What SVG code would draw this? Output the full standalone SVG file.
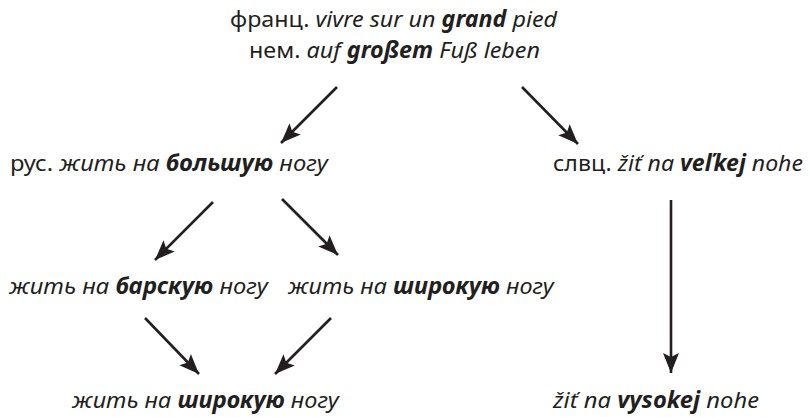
<svg xmlns="http://www.w3.org/2000/svg" width="809" height="417" viewBox="0 0 809 417">
<style>
text{font-family:"Noto Sans","Open Sans","DejaVu Sans",sans-serif;font-size:22.5px;fill:#231f20}
.i{font-style:italic}
.b{font-weight:bold}
.arr{stroke:#231f20;stroke-width:2.6;fill:none;marker-end:url(#ah)}
</style>
<defs>
<marker id="ah" markerUnits="userSpaceOnUse" markerWidth="22" markerHeight="18" viewBox="0 0 22 18" refX="20" refY="9" orient="auto">
<path d="M0,1 L20,9 L0,17 L4,9 Z" fill="#231f20"/>
</marker>
</defs>
<rect width="809" height="417" fill="#fff"/>
<g id="src">
<text x="230" y="27" textLength="327" lengthAdjust="spacingAndGlyphs">франц. <tspan class="i">vivre sur un </tspan><tspan class="i b">grand</tspan><tspan class="i"> pied</tspan></text>
<text x="249" y="58" textLength="291" lengthAdjust="spacingAndGlyphs">нем. <tspan class="i">auf </tspan><tspan class="i b">großem</tspan><tspan class="i"> Fuß leben</tspan></text>
</g>
<g id="rus">
<text x="10" y="171" textLength="318" lengthAdjust="spacingAndGlyphs">рус. <tspan class="i">жить на </tspan><tspan class="i b">большую</tspan><tspan class="i"> ногу</tspan></text>
</g>
<g id="slvc">
<text x="553" y="171" textLength="250" lengthAdjust="spacingAndGlyphs">слвц. <tspan class="i">žiť na </tspan><tspan class="i b">veľkej</tspan><tspan class="i"> nohe</tspan></text>
</g>
<g id="barskuyu">
<text class="i" x="9" y="294" textLength="259" lengthAdjust="spacingAndGlyphs">жить на <tspan class="b">барскую</tspan> ногу</text>
</g>
<g id="shirokuyu1">
<text class="i" x="288" y="294" textLength="266" lengthAdjust="spacingAndGlyphs">жить на <tspan class="b">широкую</tspan> ногу</text>
</g>
<g id="shirokuyu2">
<text class="i" x="72" y="408" textLength="267" lengthAdjust="spacingAndGlyphs">жить на <tspan class="b">широкую</tspan> ногу</text>
</g>
<g id="vysokej">
<text class="i" x="553" y="408" textLength="206" lengthAdjust="spacingAndGlyphs">žiť na <tspan class="b">vysokej</tspan> nohe</text>
</g>
<g id="connectors">
<line class="arr" x1="337" y1="87" x2="281" y2="143"/>
<line class="arr" x1="522" y1="87" x2="578" y2="144"/>
<line class="arr" x1="213" y1="202" x2="155" y2="260"/>
<line class="arr" x1="282" y1="199" x2="338" y2="255"/>
<line class="arr" x1="145" y1="318" x2="199" y2="374"/>
<line class="arr" x1="331" y1="318" x2="275" y2="374"/>
<line class="arr" x1="671" y1="200" x2="671" y2="373"/>
</g>
</svg>
